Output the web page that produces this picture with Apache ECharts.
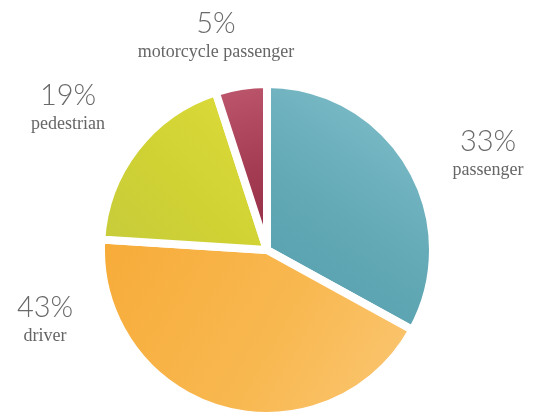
<!DOCTYPE html>
<html>
<head>
<meta charset="utf-8">
<script src="https://cdn.jsdelivr.net/npm/echarts@6/dist/echarts.min.js"></script>
<style>
  html, body { margin: 0; padding: 0; background: #fff; }
  #chart { width: 533px; height: 416px; }
</style>
</head>
<body>
<div id="chart"></div>
<script>
// slice order clockwise from 12 o'clock
const categories = ['passenger', 'driver', 'pedestrian', 'motorcycle passenger'];
const shares = [33, 43, 19, 5];

// watercolor-ish fills
const fills = [
  ['#86c3cf', '#62a8b5', '#559fae'],
  ['#f7ab38', '#f8b850', '#fbc775'],
  ['#dedd3c', '#d0d233', '#c6cb3c'],
  ['#c05a70', '#a33b52', '#922e44']
];

// where each label sits (center x, top y)
const labelSpots = [
  [488, 126],
  [45, 292],
  [68, 80],
  [216, 8]
];

const chart = echarts.init(document.getElementById('chart'));

const grad = (c, i) => new echarts.graphic.LinearGradient(
  i % 2 ? 0 : 1, 0, i % 2 ? 1 : 0, 1,
  [{ offset: 0, color: c[0] }, { offset: 0.55, color: c[1] }, { offset: 1, color: c[2] }]
);

const option = {
  backgroundColor: '#fff',
  animation: false,
  series: [{
    type: 'pie',
    center: [267, 250],
    radius: [0, 166],
    startAngle: 90,
    clockwise: true,
    avoidLabelOverlap: false,
    itemStyle: { borderColor: '#fff', borderWidth: 8 },
    label: {
      show: true,
      position: 'outside',
      formatter: '{p|{c}%}\n{n|{b}}',
      rich: {
        p: { fontFamily: 'Lato', fontWeight: 300, fontSize: 29, color: '#6a6a6a', lineHeight: 32, align: 'center' },
        n: { fontFamily: 'Liberation Serif', fontSize: 18, color: '#666', lineHeight: 24, align: 'center' }
      }
    },
    labelLine: { show: false },
    labelLayout: function (p) {
      const s = labelSpots[p.dataIndex];
      return { x: s[0], y: s[1], align: 'center', verticalAlign: 'top' };
    },
    data: categories.map((name, i) => ({
      name: name,
      value: shares[i],
      itemStyle: { color: grad(fills[i], i) }
    }))
  }]
};

chart.setOption(option);
</script>
</body>
</html>
